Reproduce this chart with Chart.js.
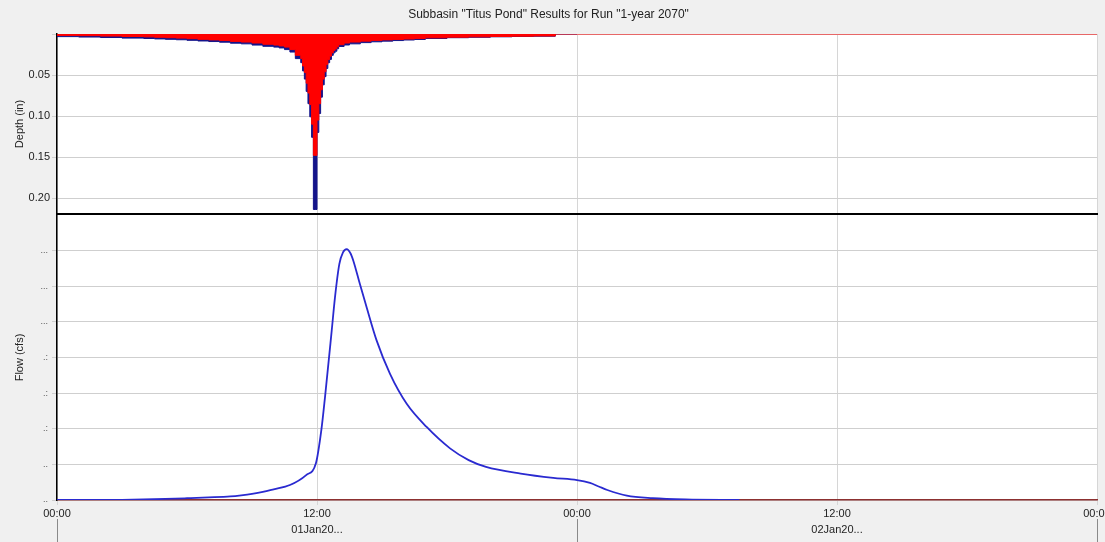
<!DOCTYPE html>
<html>
<head>
<meta charset="utf-8">
<script src="https://cdn.jsdelivr.net/npm/chart.js@4.4.1/dist/chart.umd.min.js"></script>
<style>
  body { margin: 0; background: #f0f0f0; width: 1105px; height: 542px; overflow: hidden; }
  #depth-wrap { position: absolute; left: 0; top: 0; width: 1105px; height: 215px; }
  #flow-wrap { position: absolute; left: 0; top: 215px; width: 1105px; height: 327px; }
</style>
</head>
<body>
<div id="depth-wrap"><canvas id="depth-chart" width="1105" height="215"></canvas></div>
<div id="flow-wrap"><canvas id="flow-chart" width="1105" height="327"></canvas></div>
<script>
// time axis (hours from 01Jan 00:00)
const timeTicks = [0, 12, 24, 36, 48];
const timeTickLabels = ["00:00", "12:00", "00:00", "12:00", "00:00"];
const dateLabels = ["", "01Jan20...", "", "02Jan20...", ""];
const dayBoundaries = [0, 24, 48];
const runEndHour = 48;

// hyetograph, interval start hours
const depthHours = [0, 1, 2, 3, 4, 4.5, 5, 5.5, 6, 6.5, 7, 7.5, 8, 8.5, 9, 9.5, 10, 10.25, 10.5, 10.75, 11,
  11.25, 11.333, 11.417, 11.5, 11.583, 11.667, 11.75, 11.833, 11.917, 12,
  12.083, 12.167, 12.25, 12.333, 12.417, 12.5, 12.583, 12.667, 12.75, 12.833, 12.917,
  13, 13.25, 13.5, 14, 14.5, 15, 15.5, 16, 16.5, 17, 18, 19, 20, 21, 22, 23, 24];
const precipDepth = [0.003, 0.0032, 0.0037, 0.0043, 0.005, 0.0055, 0.006, 0.0065, 0.007, 0.0077, 0.0085, 0.0092, 0.010, 0.0112, 0.012, 0.0135, 0.015, 0.016, 0.017, 0.019, 0.022,
  0.030, 0.035, 0.045, 0.055, 0.070, 0.085, 0.101, 0.126, 0.214, 0.214,
  0.120, 0.097, 0.077, 0.062, 0.052, 0.042, 0.035, 0.031, 0.026, 0.023, 0.021,
  0.018, 0.0152, 0.0134, 0.012, 0.0105, 0.0095, 0.0087, 0.008, 0.0073, 0.0067, 0.0055, 0.0045, 0.004, 0.0034, 0.003, 0.0027, 0];
const excessDepth = [0.0015, 0.0017, 0.002, 0.0025, 0.003, 0.0035, 0.004, 0.0045, 0.005, 0.0057, 0.0065, 0.0072, 0.008, 0.009, 0.0098, 0.011, 0.0125, 0.0135, 0.0145, 0.016, 0.019,
  0.026, 0.030, 0.039, 0.047, 0.060, 0.072, 0.086, 0.110, 0.148, 0.148,
  0.105, 0.085, 0.068, 0.055, 0.046, 0.037, 0.031, 0.027, 0.023, 0.020, 0.018,
  0.0155, 0.013, 0.011, 0.0098, 0.0087, 0.0078, 0.0072, 0.0066, 0.0061, 0.0056, 0.0047, 0.0039, 0.0035, 0.003, 0.0027, 0.0024, 0];
const depthTicks = [0, 0.05, 0.10, 0.15, 0.20];

// outflow hydrograph
const flowHours = [0, 2, 3, 4, 5, 6, 7, 8, 8.5, 9, 9.5, 10, 10.75, 11.5, 11.95,
  12.2, 12.37, 12.68, 12.83, 13.03, 13.2, 13.37, 13.55, 13.68, 13.98, 14.29, 14.75, 15.37, 16.14, 17.06, 18.14,
  19, 19.8, 21.4, 22.9, 24, 24.6, 25, 25.4, 26.3, 27.5, 29, 31.5];
const flowValues = [0, 0, 0.005, 0.015, 0.03, 0.05, 0.072, 0.10, 0.13, 0.17, 0.225, 0.30, 0.42, 0.70, 1.03,
  1.96, 2.89, 4.76, 5.69, 6.62, 6.95, 7.04, 6.92, 6.71, 6.06, 5.41, 4.48, 3.54, 2.70, 2.05, 1.45,
  1.12, 0.93, 0.74, 0.62, 0.56, 0.48, 0.38, 0.28, 0.12, 0.05, 0.015, 0];
const flowTicks = [0, 1, 2, 3, 4, 5, 6, 7];
const flowTickLabels = ["..", "..", ".:", ".:", ".:", "...", "...", "..."];

Chart.defaults.font.family = "'Liberation Sans', Arial, sans-serif";
Chart.defaults.color = "#222";
Chart.defaults.animation = false;

const plotBackground = {
  id: "plotBackground",
  beforeDraw: (chart) => {
    const a = chart.chartArea;
    const ctx = chart.ctx;
    ctx.save();
    ctx.fillStyle = "#ffffff";
    ctx.fillRect(a.left, a.top, a.right - a.left, a.bottom - a.top);
    ctx.restore();
  },
};

// long marks under the day boundary labels
const dayMarks = {
  id: "dayMarks",
  afterDraw: (chart) => {
    const ctx = chart.ctx;
    const xs = chart.scales.x;
    const bottom = chart.chartArea.bottom;
    ctx.save();
    ctx.strokeStyle = "#8a8a8a";
    ctx.lineWidth = 1;
    dayBoundaries.forEach((h) => {
      const px = Math.round(xs.getPixelForValue(h)) + 0.5;
      ctx.beginPath();
      ctx.moveTo(px, bottom + 19);
      ctx.lineTo(px, bottom + 42);
      ctx.stroke();
    });
    ctx.restore();
  },
};

const setTicks = (values) => (scale) => {
  scale.ticks = values.map((v) => ({ value: v }));
};

const fitY = (scale) => {
  scale.width = 57;
  scale.paddingTop = 0;
  scale.paddingBottom = 0;
};

const precipData = depthHours.map((h, i) => ({ x: h, y: precipDepth[i] }));
const excessData = depthHours.map((h, i) => ({ x: h, y: excessDepth[i] }));
excessData.push({ x: runEndHour, y: 0 });

new Chart(document.getElementById("depth-chart"), {
  type: "line",
  data: {
    datasets: [
      {
        label: "Excess Precipitation",
        data: excessData,
        stepped: "after",
        borderColor: "#ff0000",
        backgroundColor: "#ff0000",
        borderWidth: 1,
        fill: "origin",
        pointRadius: 0,
      },
      {
        label: "Precipitation",
        data: precipData,
        stepped: "after",
        borderColor: "#14148a",
        backgroundColor: "#14148a",
        borderWidth: 1,
        fill: "origin",
        pointRadius: 0,
      },
    ],
  },
  options: {
    responsive: false,
    layout: { padding: { left: 0, right: 8, top: 0, bottom: 1 } },
    scales: {
      x: {
        type: "linear",
        min: 0,
        max: runEndHour,
        afterBuildTicks: setTicks(timeTicks),
        afterFit: (scale) => {
          scale.height = 0;
          scale.paddingLeft = 0;
          scale.paddingRight = 0;
        },
        ticks: { display: false },
        grid: { color: "#d6d6d6", drawTicks: false },
        border: { display: true, color: "#000", width: 2 },
      },
      y: {
        type: "linear",
        reverse: true,
        min: 0,
        max: 0.2195,
        afterBuildTicks: setTicks(depthTicks),
        afterFit: fitY,
        ticks: {
          font: { size: 11 },
          padding: 2,
          callback: (v) => (v === 0 ? "" : v.toFixed(2)),
        },
        grid: { color: "#cfcfcf", tickLength: 5 },
        border: { color: "#000", width: 1.5 },
        title: { display: true, text: "Depth (in)", font: { size: 11 }, padding: { top: 13, bottom: 0 } },
      },
    },
    plugins: {
      legend: { display: false },
      tooltip: { enabled: false },
      title: {
        display: true,
        text: 'Subbasin "Titus Pond" Results for Run "1-year 2070"',
        font: { size: 12, weight: "normal" },
        color: "#222",
        padding: { top: 7, bottom: 12.6 },
      },
    },
  },
  plugins: [plotBackground],
});

new Chart(document.getElementById("flow-chart"), {
  type: "line",
  data: {
    datasets: [
      {
        label: "Outflow",
        data: flowHours.map((h, i) => ({ x: h, y: flowValues[i] })),
        borderColor: "#2a2ad0",
        borderWidth: 1.8,
        cubicInterpolationMode: "monotone",
        fill: false,
        pointRadius: 0,
      },
    ],
  },
  options: {
    responsive: false,
    layout: { padding: { left: 0, right: 8, top: 0, bottom: 0 } },
    scales: {
      x: {
        type: "linear",
        min: 0,
        max: runEndHour,
        afterBuildTicks: setTicks(timeTicks),
        afterFit: (scale) => {
          scale.height = 42;
          scale.paddingLeft = 0;
          scale.paddingRight = 0;
        },
        ticks: {
          maxRotation: 0,
          autoSkip: false,
          padding: 1,
          font: { size: 11, lineHeight: 1.45 },
          callback: (v) => {
            const i = timeTicks.indexOf(v);
            return dateLabels[i] ? [timeTickLabels[i], dateLabels[i]] : timeTickLabels[i];
          },
        },
        grid: { color: "#d6d6d6", tickLength: 5 },
        border: { color: "#8c3030", width: 1.5 },
      },
      y: {
        type: "linear",
        min: 0,
        max: 8,
        afterBuildTicks: setTicks(flowTicks),
        afterFit: fitY,
        ticks: {
          font: { size: 9 },
          color: "#555",
          padding: 4,
          callback: (v) => flowTickLabels[flowTicks.indexOf(v)],
        },
        grid: { color: "#cfcfcf", tickLength: 5 },
        border: { color: "#000", width: 1.5 },
        title: { display: true, text: "Flow (cfs)", font: { size: 11 }, padding: { top: 13, bottom: 0 } },
      },
    },
    plugins: {
      legend: { display: false },
      tooltip: { enabled: false },
    },
  },
  plugins: [plotBackground, dayMarks],
});
</script>
</body>
</html>
